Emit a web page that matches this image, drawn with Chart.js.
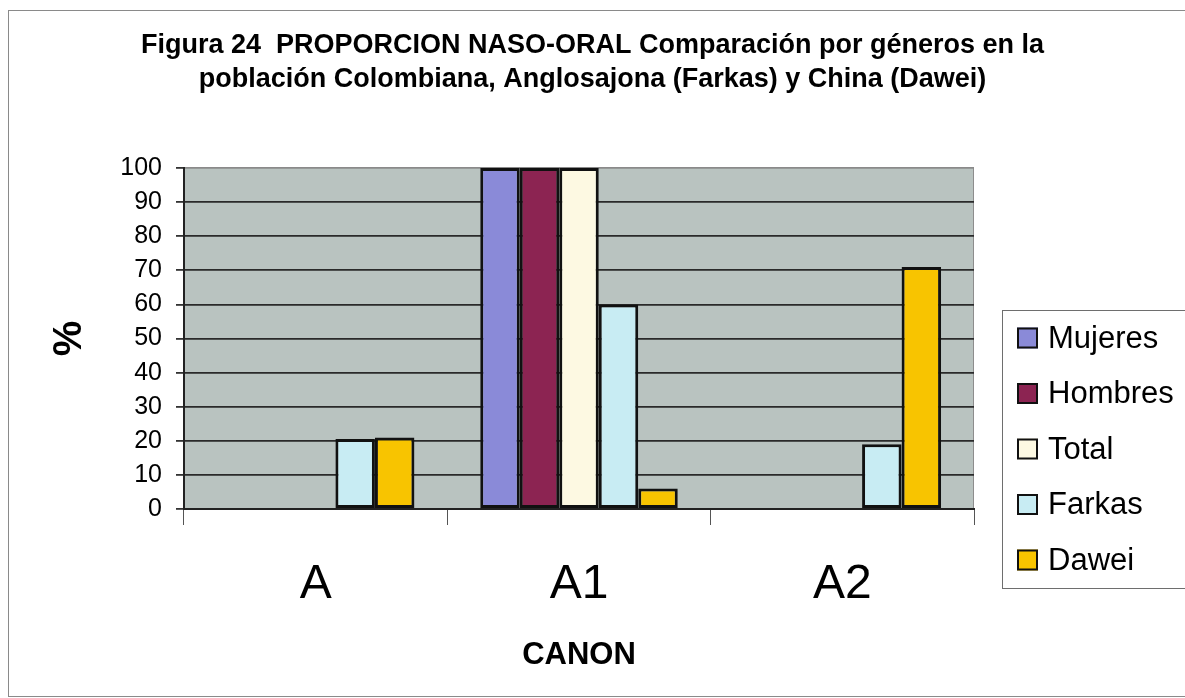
<!DOCTYPE html>
<html>
<head>
<meta charset="utf-8">
<script src="https://cdn.jsdelivr.net/npm/chart.js@4"></script>
<style>
  html, body { margin: 0; padding: 0; background: #fff; }
  #wrap { width: 1185px; height: 698px; }
</style>
</head>
<body>
<div id="wrap"><canvas id="chart" width="1185" height="698"></canvas></div>
<script>
// data
const categories = ['A', 'A1', 'A2'];
const mujeres = [null, 100, null];
const hombres = [null, 100, null];
const total = [null, 100, null];
const farkas = [20.5, 60, 19];
const dawei = [21, 6, 71];

const titleLines = [
    'Figura 24  PROPORCION NASO-ORAL Comparación por géneros en la',
    'población Colombiana, Anglosajona (Farkas) y China (Dawei)'
];
const FONT = '"Liberation Sans", Arial, Helvetica, sans-serif';

// grey plot background, page frame
const frame = {
    id: 'frame',
    beforeDraw(chart) {
        const { ctx, chartArea: a } = chart;
        ctx.save();
        ctx.fillStyle = '#fff';
        ctx.fillRect(0, 0, chart.width, chart.height);
        ctx.strokeStyle = '#8a8a8a';
        ctx.lineWidth = 1;
        ctx.strokeRect(8.5, 10.5, 1200, 686);
        ctx.fillStyle = '#b9c3c0';
        ctx.fillRect(a.left, a.top, a.right - a.left, a.bottom - a.top);
        ctx.strokeStyle = '#8d8d8d';
        ctx.beginPath();
        ctx.moveTo(a.right - 0.5, a.top);
        ctx.lineTo(a.right - 0.5, a.bottom);
        ctx.stroke();
        ctx.restore();
    }
};

// boxed legend on the right, like the original
const boxLegend = {
    id: 'boxLegend',
    afterDraw(chart) {
        const ctx = chart.ctx;
        ctx.save();
        ctx.strokeStyle = '#6e6e6e';
        ctx.lineWidth = 1;
        ctx.strokeRect(1002.5, 310.5, 200, 278);
        ctx.font = '31px ' + FONT;
        ctx.textBaseline = 'middle';
        chart.data.datasets.forEach((ds, i) => {
            const y = 338 + i * 55.5;
            ctx.fillStyle = ds.backgroundColor;
            ctx.fillRect(1017, y - 10.5, 21, 21);
            ctx.lineWidth = 2;
            ctx.strokeStyle = '#111';
            ctx.strokeRect(1018, y - 9.5, 19, 19);
            ctx.fillStyle = '#000';
            ctx.fillText(ds.label, 1048, y + 1);
        });
        ctx.restore();
    }
};

function bar(label, data, color) {
    return {
        label: label,
        data: data,
        backgroundColor: color,
        borderColor: '#111',
        borderWidth: 3,
        borderSkipped: false,
        categoryPercentage: 0.75,
        barPercentage: 1
    };
}

const ctx = document.getElementById('chart').getContext('2d');
const chart = new Chart(ctx, {
    type: 'bar',
    data: {
        labels: categories,
        datasets: [
            bar('Mujeres', mujeres, '#8a8ad8'),
            bar('Hombres', hombres, '#8c2452'),
            bar('Total', total, '#fdf9e2'),
            bar('Farkas', farkas, '#c8ecf3'),
            bar('Dawei', dawei, '#f8c400')
        ]
    },
    options: {
        responsive: false,
        devicePixelRatio: 1,
        animation: false,
        layout: { padding: 0 },
        plugins: {
            legend: { display: false },
            tooltip: { enabled: false },
            title: {
                display: true,
                text: titleLines,
                color: '#000',
                font: { family: FONT, size: 27, weight: 'bold', lineHeight: 1.26 },
                padding: { top: 29, bottom: 71 }
            }
        },
        scales: {
            x: {
                offset: true,
                grid: {
                    offset: true,
                    drawOnChartArea: false,
                    drawTicks: true,
                    tickLength: 16,
                    color: '#555',
                    lineWidth: 1
                },
                border: { color: '#222', width: 2 },
                ticks: {
                    color: '#000',
                    padding: 31,
                    font: { family: FONT, size: 48 }
                },
                title: {
                    display: true,
                    text: 'CANON',
                    color: '#000',
                    font: { family: FONT, size: 31, weight: 'bold' },
                    padding: { top: 0, bottom: 24 }
                },
                afterFit(s) { s.height = 189; }
            },
            y: {
                min: 0,
                max: 100,
                ticks: {
                    stepSize: 10,
                    color: '#000',
                    padding: 14,
                    font: { family: FONT, size: 25 }
                },
                grid: {
                    color: c => (c.tick && c.tick.value === 100) ? '#8a8a8a' : '#2a2a2a',
                    lineWidth: 1.8,
                    tickLength: 8,
                    tickColor: '#333'
                },
                border: { color: '#222', width: 2 },
                title: {
                    display: true,
                    text: '%',
                    color: '#000',
                    font: { family: FONT, size: 40, weight: 'bold' },
                    padding: { top: 46, bottom: 0 }
                },
                afterFit(s) { s.width = 184; }
            },
            // empty axis that keeps room for the legend box
            yRight: {
                position: 'right',
                min: 0,
                max: 100,
                grid: { display: false },
                border: { display: false },
                ticks: { display: false },
                afterFit(s) { s.width = 211; }
            }
        }
    },
    plugins: [frame, boxLegend]
});
</script>
</body>
</html>
